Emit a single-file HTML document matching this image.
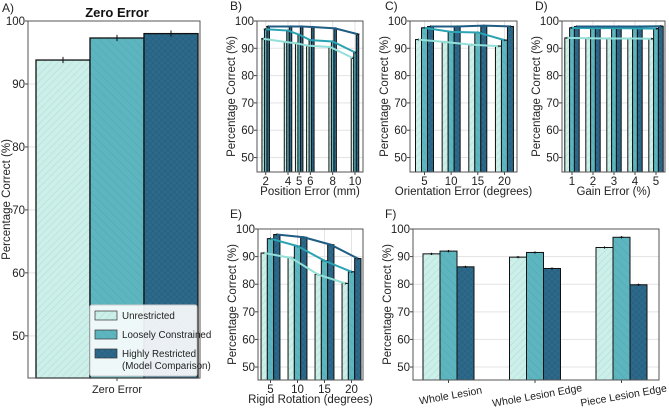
<!DOCTYPE html>
<html><head><meta charset="utf-8"><style>
body{margin:0;background:#fff}
svg{display:block;font-family:"Liberation Sans",sans-serif}
</style></head><body>
<svg id="fig" width="669" height="408" viewBox="0 0 669 408">
<defs>
<pattern id="hL" width="5" height="5" patternUnits="userSpaceOnUse" patternTransform="rotate(45)"><rect width="5" height="5" fill="#cdefe9"/><line x1="0" y1="0" x2="0" y2="5" stroke="#a9ddd5" stroke-width="1"/></pattern>
<pattern id="hM" width="6" height="6" patternUnits="userSpaceOnUse" patternTransform="rotate(-45)"><rect width="6" height="6" fill="#5db6bf"/><line x1="0" y1="0" x2="0" y2="6" stroke="#4fa6b0" stroke-width="1"/></pattern>
<pattern id="hD" width="6" height="6" patternUnits="userSpaceOnUse"><rect width="6" height="6" fill="#2c6a8b"/><path d="M0,0L6,6M6,0L0,6" stroke="#2a5f7e" stroke-width="0.8"/></pattern>
</defs>
<g id="root"></g>
</svg>
<script>
// ---- data ----
const seriesNames = ["Unrestricted","Loosely Constrained","Highly Restricted (Model Comparison)"];
const aValues = [93.8, 97.3, 98.0];
const aErr = [0.6, 0.3, 0.2];
const bCats = [2,4,5,6,8,10];
const bLight = [93.5,92.3,91.8,91.0,90.5,86.5];
const bMid = [97.0,96.5,95.0,93.0,92.5,88.5];
const bDark = [98.0,98.0,98.0,97.8,97.3,95.2];
const cCats = [5,10,15,20];
const cLight = [93.2,92.3,91.3,90.8];
const cMid = [97.5,96.0,95.8,93.0];
const cDark = [98.0,98.0,98.3,98.0];
const dCats = [1,2,3,4,5];
const dLight = [93.8,93.7,93.6,93.6,93.5];
const dMid = [97.5,97.4,97.4,97.3,97.2];
const dDark = [98.0,98.0,98.0,98.0,98.1];
const eCats = [5,10,15,20];
const eLight = [91.3,89.5,83.5,80.3];
const eMid = [96.5,93.8,88.5,84.5];
const eDark = [98.0,97.0,94.3,89.3];
const fCats = ["Whole Lesion","Whole Lesion Edge","Piece Lesion Edge"];
const fLight = [91.0,89.8,93.3];
const fMid = [92.0,91.5,97.0];
const fDark = [86.3,85.7,79.8];
const yTicks = [50,60,70,80,90,100];

const NS="http://www.w3.org/2000/svg";
const root=document.getElementById('root');
function mk(tag,attrs,parent,text){const e=document.createElementNS(NS,tag);for(const k in attrs)e.setAttribute(k,attrs[k]);if(text!==undefined)e.textContent=text;(parent||root).appendChild(e);return e;}
const fills=["url(#hL)","url(#hM)","url(#hD)"];
const lineCols=["#93e0d8","#2aa3b3","#1f5d84"];

function panel(o){
  const g=mk('g',{});
  
  
  const y=v=>o.top+(o.ymax-v)*(o.bottom-o.top)/(o.ymax-o.ymin);
  const x=o.x;
  yTicks.forEach(t=>{ if(t<o.ymin) return;
    const gl=mk('line',{x1:o.left,x2:o.right,y1:y(t),y2:y(t),stroke:'#e3e3e3','stroke-width':1},g);
    
    const tl=mk('text',{x:o.left-3,y:y(t)+4,'text-anchor':'end','font-size':11.5,fill:'#222'},g,String(t));
    
    mk('line',{x1:o.left-3,x2:o.left,y1:y(t),y2:y(t),stroke:'#444'},g);
  });
  o.cats.forEach((c,i)=>{const xx=x(c,i);
    if(o.vgrid) mk('line',{x1:xx,x2:xx,y1:o.top,y2:o.bottom,stroke:'#e3e3e3'},g);
  });
  o.series.forEach((s,si)=>{
    s.forEach((v,i)=>{
      const cx=x(o.cats[i],i)+(si-1)*o.bw;
      const r=mk('rect',{x:cx-o.bw/2,y:y(v),width:o.bw,height:o.bottom-y(v),fill:fills[si],stroke:'#111','stroke-width':o.sw||1},g);
      
      
      const e=(o.err||0.4);
      mk('line',{x1:cx,x2:cx,y1:y(v+e),y2:y(v-e),stroke:'#111','stroke-width':1},g);
      mk('line',{x1:cx-2,x2:cx+2,y1:y(v),y2:y(v),stroke:'#111','stroke-width':1},g);
    });
  });
  if(o.lines){
    o.series.forEach((s,si)=>{
      const pts=s.map((v,i)=>(x(o.cats[i],i)+(si-1)*o.bw)+','+y(v)).join(' ');
      const pl=mk('polyline',{points:pts,fill:'none',stroke:lineCols[si],'stroke-width':2},g);
      
      
    });
  }
  mk('rect',{x:o.left,y:o.top,width:o.right-o.left,height:o.bottom-o.top,fill:'none',stroke:'#555','stroke-width':1},g);
  if(!o.noTicks){
  o.cats.forEach((c,i)=>{const xx=x(c,i);
    mk('line',{x1:xx,x2:xx,y1:o.bottom,y2:o.bottom+3,stroke:'#444'},g);
    if(o.rot){
      const t=mk('text',{x:xx+2,y:o.bottom+19,'text-anchor':'middle','font-size':10.5,fill:'#222',transform:'rotate(-10 '+(xx+2)+' '+(o.bottom+15)+')'},g,String(c));
      
    } else {
      const t=mk('text',{x:xx,y:o.bottom+13,'text-anchor':'middle','font-size':11.5,fill:'#222'},g,String(c));
      
    }
  });}
  if(o.xlabel){const t=mk('text',{x:(o.left+o.right)/2,y:o.bottom+23,'text-anchor':'middle','font-size':11.5,fill:'#222'},g,o.xlabel);
    }
  const yl=mk('text',{x:0,y:0,'text-anchor':'middle','font-size':11.5,fill:'#222',transform:'translate('+(o.left-(o.ylOff||22))+','+((o.top+o.bottom)/2)+') rotate(-90)'},g,'Percentage Correct (%)');
  
  const pl=mk('text',{x:o.lx,y:o.ly,'font-size':12,fill:'#222'},g,o.letter);
  
}

panel({name:'panel-a-zero-error',key:'a',left:28,right:200,top:21,bottom:378,ymin:43.3,ymax:100,
  cats:[0],x:()=>117,series:[[aValues[0]],[aValues[1]],[aValues[2]]],bw:54,sw:1.3,err:0.5,noTicks:true,ylOff:18,
  xlabel:null,letter:'A)',lx:2,ly:12});
{mk('line',{x1:117,x2:117,y1:378,y2:381,stroke:'#444'});
 const t=mk('text',{x:117,y:393,'text-anchor':'middle','font-size':11,fill:'#222'},root,'Zero Error');
 
 const tt=mk('text',{x:117,y:17,'text-anchor':'middle','font-size':13,'font-weight':'bold',fill:'#111'},root,'Zero Error');
 }
{const lg=mk('g',{});
 mk('rect',{x:90,y:305,width:107,height:71,fill:'#fff','fill-opacity':0.9,stroke:'#ccc',rx:2},lg);
 const rows=[[311,'Unrestricted'],[330,'Loosely Constrained'],[349,'Highly Restricted']];
 rows.forEach((r,i)=>{const s=mk('rect',{x:95,y:r[0],width:22,height:9,fill:fills[i],stroke:'#333','stroke-width':0.7},lg);
   
   const t=mk('text',{x:122,y:r[0]+8,'font-size':9.8,fill:'#222'},lg,r[1]);
   });
 mk('text',{x:122,y:369,'font-size':9.8,fill:'#222'},lg,'(Model Comparison)');
}
panel({name:'panel-b-position-error',key:'b',left:257,right:363,top:21,bottom:172,ymin:44.7,ymax:100,
  cats:bCats,x:c=>265.7+(c-2)*11.16,series:[bLight,bMid,bDark],bw:2.5,lines:true,vgrid:true,
  xlabel:'Position Error (mm)',letter:'B)',lx:230,ly:10});
panel({name:'panel-c-orientation-error',key:'c',left:410,right:517,top:21,bottom:172,ymin:44.7,ymax:100,
  cats:cCats,x:c=>424.5+(c-5)*5.33,series:[cLight,cMid,cDark],bw:6,lines:true,vgrid:true,
  xlabel:'Orientation Error (degrees)',letter:'C)',lx:385,ly:10});
panel({name:'panel-d-gain-error',key:'d',left:562,right:665,top:21,bottom:172,ymin:44.7,ymax:100,
  cats:dCats,x:c=>572+(c-1)*21,series:[dLight,dMid,dDark],bw:4.8,lines:true,vgrid:true,
  xlabel:'Gain Error (%)',letter:'D)',lx:535,ly:10});
panel({name:'panel-e-rigid-rotation',key:'e',left:258,right:363,top:229,bottom:380,ymin:45.3,ymax:100,
  cats:eCats,x:c=>270.5+(c-5)*5.4,series:[eLight,eMid,eDark],bw:6.3,lines:true,vgrid:true,
  xlabel:'Rigid Rotation (degrees)',letter:'E)',lx:230,ly:218});
panel({name:'panel-f-lesion',key:'f',left:413,right:659,top:229,bottom:380,ymin:45.3,ymax:100,
  cats:fCats,x:(c,i)=>448.5+i*86.5,series:[fLight,fMid,fDark],bw:17,rot:true,
  xlabel:null,letter:'F)',lx:385,ly:218});
</script>
</body></html>
